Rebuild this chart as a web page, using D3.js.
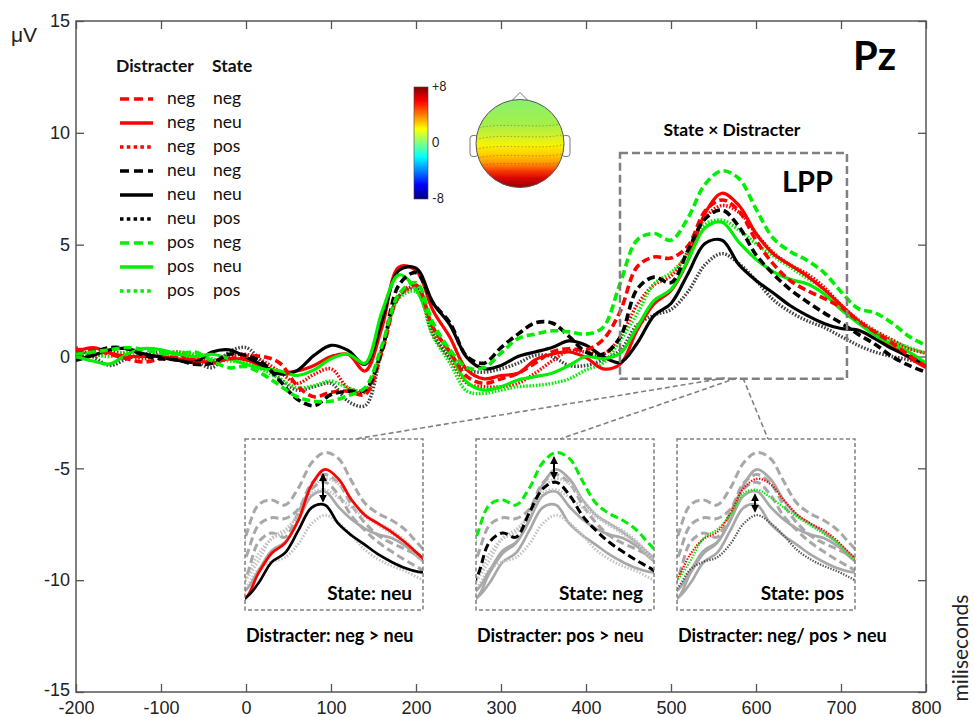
<!DOCTYPE html>
<html><head><meta charset="utf-8">
<script src="https://cdn.jsdelivr.net/npm/d3@7"></script>
<style>body{margin:0;background:#fff}svg{display:block}</style>
</head><body><svg id="c" width="974" height="717"></svg>
<script>
// ---------------- DATA ----------------
const times = [-200,-180,-160,-140,-120,-100,-80,-60,-40,-20,0,20,40,60,80,100,120,140,160,180,200,220,240,260,280,300,320,340,360,380,400,420,440,460,480,500,520,540,560,580,600,620,640,660,680,700,720,740,760,780,800];

const negNeg = [0.3,0.3,0.1,-0.1,-0.25,-0.1,0.0,-0.3,-0.2,-0.1,0.0,0.0,-0.3,-1.3,-1.8,-1.6,-1.55,-1.7,0.2,2.7,3.2,1.3,0.2,-0.9,-1.2,-1.0,-0.75,-0.3,0.2,0.35,0.3,0.75,2.0,4.0,4.45,4.4,4.95,6.5,7.0,6.5,5.2,4.15,3.4,2.95,2.6,2.2,1.6,1.1,0.6,0.05,-0.45];
const negNeu = [0.2,0.4,0.15,0.0,0.0,0.0,-0.1,-0.15,-0.3,-0.1,-0.15,-0.45,-0.7,-0.65,-0.4,0.0,0.1,-0.65,1.3,4.0,3.85,2.06,0.85,-0.6,-1.0,-0.85,-0.75,-0.15,0.1,0.2,-0.05,-0.55,-0.35,1.16,2.35,2.95,4.3,6.4,7.3,6.75,5.5,4.6,4.1,3.6,3.0,2.3,1.6,1.0,0.45,-0.05,-0.5];
const negPos = [0.1,0.0,0.2,0.1,-0.1,0.1,0.2,0.0,-0.2,0.0,0.1,-0.2,-0.7,-1.2,-0.8,-0.55,-1.4,-1.6,0.3,2.7,3.0,1.0,-0.1,-1.2,-1.35,-1.35,-1.2,-0.75,-0.2,0.25,0.2,0.1,0.85,2.3,3.2,3.6,4.7,6.2,6.75,6.45,5.5,4.65,4.1,3.7,3.1,2.3,1.65,1.15,0.75,0.35,0.15];
const neuNeg = [0.1,0.2,0.4,0.35,0.05,-0.1,-0.15,-0.35,-0.3,0.1,0.05,-0.3,-1.1,-1.9,-2.2,-1.7,-1.55,-1.5,0.3,3.2,3.75,2.4,1.5,0.0,-0.3,0.4,1.0,1.5,1.5,0.9,0.2,0.1,0.85,3.0,3.55,3.3,4.75,6.15,6.55,5.8,4.55,3.7,3.0,2.45,1.95,1.5,1.0,0.55,0.0,-0.4,-0.7];
const neuNeu = [-0.18,0.05,0.3,0.35,0.12,-0.03,-0.18,-0.25,0.2,0.3,-0.03,-0.4,-0.78,-0.63,0.05,0.5,0.27,-0.35,1.6,3.85,3.95,2.4,1.4,-0.05,-0.55,-0.4,0.0,0.2,0.4,0.7,0.5,0.0,-0.27,0.58,1.83,2.37,3.7,5.05,5.2,4.1,3.4,2.85,2.28,1.84,1.48,1.25,1.18,0.8,0.35,0.0,-0.35];
const neuPos = [0.4,0.0,-0.4,-0.1,0.1,0.2,0.1,-0.2,-0.5,0.2,0.4,-0.3,-1.0,-1.5,-1.35,-1.2,-2.0,-2.2,0.3,2.7,3.1,1.0,-0.05,-0.6,-0.7,-0.55,-0.3,0.05,0.0,-0.4,-0.4,-0.15,0.27,1.4,1.85,2.1,2.9,4.1,4.6,4.15,3.4,2.55,2.0,1.6,1.3,0.9,0.5,0.2,0.0,-0.15,-0.35];
const posNeg = [0.1,0.2,0.3,0.4,0.3,0.15,0.1,0.2,-0.2,-0.5,-0.45,-0.8,-1.3,-1.8,-2.0,-2.0,-1.75,-1.4,0.5,2.8,3.3,1.5,0.3,-0.5,-0.5,0.15,0.8,1.0,1.15,1.1,1.0,1.3,3.25,5.2,5.5,5.2,6.2,7.7,8.3,7.95,6.6,5.3,4.7,4.3,3.75,2.9,2.15,1.95,1.5,0.9,0.5];
const posNeu = [0.0,-0.2,-0.33,0.1,0.35,0.3,0.1,0.0,0.1,-0.1,-0.35,-0.55,-0.65,-0.85,-0.6,-0.1,0.1,-0.3,2.0,3.65,3.0,1.3,0.13,-1.15,-1.5,-1.35,-1.05,-0.9,-0.75,-0.4,0.0,-0.1,0.13,1.3,2.5,3.0,4.3,5.75,6.0,5.1,4.35,3.8,3.45,3.25,2.8,2.1,1.5,0.95,0.55,0.2,-0.3];
const posPos = [0.2,0.1,0.0,0.2,0.1,0.0,0.2,0.1,-0.1,-0.2,-0.3,-0.6,-1.0,-1.4,-1.3,-1.1,-1.4,-1.5,0.4,2.6,2.9,0.9,-0.3,-1.55,-1.65,-1.5,-1.35,-1.3,-1.2,-1.0,-0.6,-0.3,0.7,1.9,3.25,3.75,4.6,5.9,6.1,5.65,5.05,4.5,4.0,3.5,3.0,2.15,1.55,1.1,0.7,0.4,0.15];

const distracterLabels = ['neg','neg','neg','neu','neu','neu','pos','pos','pos'];
const stateLabels      = ['neg','neu','pos','neg','neu','pos','neg','neu','pos'];
const seriesValues     = [negNeg,negNeu,negPos,neuNeg,neuNeu,neuPos,posNeg,posNeu,posPos];
const seriesKeys       = ['negNeg','negNeu','negPos','neuNeg','neuNeu','neuPos','posNeg','posNeu','posPos'];

const xTicks = [-200,-100,0,100,200,300,400,500,600,700,800];
const yTicks = [-15,-10,-5,0,5,10,15];
const lppWindow = [440, 707];     // ms
const lppRange  = [-1.0, 9.1];    // µV
const insetStates = ['State: neu','State: neg','State: pos'];
const insetContrasts = ['Distracter: neg > neu','Distracter: pos > neu','Distracter: neg/ pos > neu'];
const insetHighlights = [['negNeu','neuNeu'],['posNeg','neuNeg'],['negPos','posPos','neuPos']];
const insetArrows = [['negNeu','neuNeu'],['posNeg','neuNeg'],['posPos','neuPos']];
const arrowTime = 560;
const colorbarLabels = ['+8','0','-8'];
const colorbarValues = [8,0,-8];

// ---------------- STYLE ----------------
const colorOf = {neg:'#ff0000', neu:'#000000', pos:'#00ee00'};
const series = seriesKeys.map((k,i)=>({
  key:k, d:distracterLabels[i], s:stateLabels[i], values:seriesValues[i],
  color: colorOf[distracterLabels[i]],
  style: stateLabels[i]==='neg' ? 'dash' : (stateLabels[i]==='neu' ? 'solid' : 'dot')
}));
function styleLine(sel, st, scale){
  scale = scale||1;
  if(st==='dash') sel.attr('stroke-width',3.6*scale).attr('stroke-dasharray','8,4');
  else if(st==='solid') sel.attr('stroke-width',3.2*scale).attr('stroke-dasharray',null);
  else sel.attr('stroke-width',3.4*scale).attr('stroke-dasharray','1.6,1.6');
}

const svg = d3.select('#c');
const X0=76, X1=926, Y0=21, Y1=692;
const x = d3.scaleLinear().domain([-200,800]).range([X0,X1]);
const y = d3.scaleLinear().domain([-15,15]).range([Y1,Y0]);
const AX = '#555';
const tickFont = '"Liberation Sans", Arial, sans-serif';
const labFont = 'Lato, "Open Sans", sans-serif';

const defs = svg.append('defs');
defs.append('clipPath').attr('id','plotclip').append('rect')
  .attr('x',X0).attr('y',Y0).attr('width',X1-X0).attr('height',Y1-Y0);
const mk = defs.append('marker').attr('id','ah').attr('viewBox','0 0 10 10')
  .attr('refX',8).attr('refY',5).attr('markerWidth',4).attr('markerHeight',4)
  .attr('orient','auto-start-reverse');
mk.append('path').attr('d','M0,0 L10,5 L0,10 z').attr('fill','#000');

// ---------------- AXES ----------------
const gL = svg.append('g').attr('transform',`translate(${X0},0)`)
  .call(d3.axisLeft(y).tickValues(yTicks).tickSize(-8).tickPadding(6).tickFormat(d=>String(d)));
const gB = svg.append('g').attr('transform',`translate(0,${Y1})`)
  .call(d3.axisBottom(x).tickValues(xTicks).tickSize(-8).tickPadding(9).tickFormat(d=>String(d)));
const gT = svg.append('g').attr('transform',`translate(0,${Y0})`)
  .call(d3.axisTop(x).tickValues(xTicks).tickSize(-8).tickFormat(''));
const gR = svg.append('g').attr('transform',`translate(${X1},0)`)
  .call(d3.axisRight(y).tickValues(yTicks).tickSize(-8).tickFormat(''));
[gL,gB,gT,gR].forEach(g=>{
  g.select('.domain').remove();
  g.selectAll('line').attr('stroke',AX).attr('stroke-width',1.3);
  g.selectAll('text').attr('font-family',tickFont).attr('font-size',18).attr('fill','#222');
});
gL.selectAll('.tick').filter(d=>d===-15).select('text').attr('dy','0.2em');
svg.append('rect').attr('x',X0).attr('y',Y0).attr('width',X1-X0).attr('height',Y1-Y0)
  .attr('fill','none').attr('stroke',AX).attr('stroke-width',1.5);

svg.append('text').attr('x',11).attr('y',42).text('μV')
  .attr('font-family',tickFont).attr('font-size',21).attr('fill','#222');
svg.append('text').attr('transform','translate(968,648) rotate(-90)').attr('text-anchor','middle')
  .text('miliseconds').attr('font-family',labFont).attr('font-size',21).attr('fill','#222');

// ---------------- CURVES ----------------
const line = d3.line().x(d=>x(d.t)).y(d=>y(d.v)).curve(d3.curveCatmullRom.alpha(0.5));
const pts = s => s.values.map((v,i)=>({t:times[i], v}));
const order = ['dot','solid','dash'];
const gCurves = svg.append('g').attr('clip-path','url(#plotclip)');
order.forEach(st=>{
  series.filter(s=>s.style===st).forEach(s=>{
    const p = gCurves.append('path').attr('d',line(pts(s))).attr('fill','none')
      .attr('stroke', s.style==='dot' && s.d==='neu' ? '#444' : s.color);
    styleLine(p, s.style);
  });
});

// ---------------- LEGEND ----------------
const lg = svg.append('g');
lg.append('text').attr('x',116).attr('y',72).text('Distracter').attr('font-weight','bold');
lg.append('text').attr('x',212).attr('y',72).text('State').attr('font-weight','bold');
series.forEach((s,i)=>{
  const yy = 99 + i*24;
  const l = lg.append('line').attr('x1',120).attr('x2',153).attr('y1',yy).attr('y2',yy)
    .attr('stroke',s.color);
  if(s.style==='dash') l.attr('stroke-width',3.5).attr('stroke-dasharray','9,5');
  else if(s.style==='solid') l.attr('stroke-width',3.5);
  else l.attr('stroke-width',3.5).attr('stroke-dasharray','3.5,3.3');
  lg.append('text').attr('x',167).attr('y',yy+5).text(s.d);
  lg.append('text').attr('x',213).attr('y',yy+5).text(s.s);
});
lg.selectAll('text').attr('font-family',labFont).attr('font-size',17.5).attr('fill','#111');

// ---------------- Pz, title, LPP box ----------------
svg.append('text').attr('x',853).attr('y',70).text('Pz').attr('font-family',labFont)
  .attr('font-weight','bold').attr('font-size',40).attr('fill','#000');
svg.append('text').attr('x',732).attr('y',136).attr('text-anchor','middle').text('State × Distracter')
  .attr('font-family',labFont).attr('font-weight','bold').attr('font-size',17.5).attr('fill','#000');
const bx0 = x(lppWindow[0]), bx1 = x(lppWindow[1]), by0 = y(lppRange[1]), by1 = y(lppRange[0]);
svg.append('rect').attr('x',bx0).attr('y',by0).attr('width',bx1-bx0).attr('height',by1-by0)
  .attr('fill','none').attr('stroke','#808080').attr('stroke-width',2.5).attr('stroke-dasharray','8,4');
svg.append('text').attr('x',bx1-14).attr('y',192).attr('text-anchor','end').text('LPP')
  .attr('font-family',labFont).attr('font-weight','bold').attr('font-size',29).attr('fill','#000');

// ---------------- TOPOMAP ----------------
const cx=520, cy=143.5, r=44;
const tg = defs.append('linearGradient').attr('id','topoGrad').attr('x1',0).attr('x2',0).attr('y1',0).attr('y2',1);
[[0,'#88f070'],[0.28,'#a4f048'],[0.42,'#d4f02a'],[0.52,'#f6f400'],[0.62,'#ffd000'],[0.72,'#ff9800'],[0.81,'#ff3a00'],[0.9,'#d80000'],[1,'#9a0000']]
  .forEach(([o,c])=>tg.append('stop').attr('offset',o).attr('stop-color',c));
defs.append('clipPath').attr('id','headclip').append('circle').attr('cx',cx).attr('cy',cy).attr('r',r);
const topo = svg.append('g');
topo.append('path').attr('d',`M${cx-9},${cy-r+2} L${cx},${cy-r-7} L${cx+9},${cy-r+2}`)
  .attr('fill','#fff').attr('stroke','#777').attr('stroke-width',1);
topo.append('rect').attr('x',cx-r-6).attr('y',cy-8).attr('width',8).attr('height',21).attr('rx',3)
  .attr('fill','#fff').attr('stroke','#777');
topo.append('rect').attr('x',cx+r-2).attr('y',cy-8).attr('width',8).attr('height',21).attr('rx',3)
  .attr('fill','#fff').attr('stroke','#777');
topo.append('circle').attr('cx',cx).attr('cy',cy).attr('r',r).attr('fill','url(#topoGrad)');
const cg = topo.append('g').attr('clip-path','url(#headclip)');
[-18,-7,3,12,20,28,36].forEach((dy,i)=>{
  cg.append('path').attr('d',`M${cx-r},${cy+dy+3} C${cx-20},${cy+dy-4} ${cx+20},${cy+dy+4} ${cx+r},${cy+dy-2}`)
    .attr('fill','none').attr('stroke','#555').attr('stroke-width',0.6).attr('stroke-dasharray','1.5,2').attr('opacity',0.8);
});
topo.append('circle').attr('cx',cx).attr('cy',cy).attr('r',r).attr('fill','none').attr('stroke','#555').attr('stroke-width',1);

// colorbar (jet)
const cbX=414, cbW=14, cbTop=87, cbBot=199;
const cb = d3.scaleLinear().domain([8,-8]).range([cbTop,cbBot]);
const jg = defs.append('linearGradient').attr('id','jet').attr('x1',0).attr('x2',0).attr('y1',0).attr('y2',1);
[[0,'#800000'],[0.125,'#ff0000'],[0.375,'#ffff00'],[0.5,'#80ff80'],[0.625,'#00ffff'],[0.875,'#0000ff'],[1,'#000080']]
  .forEach(([o,c])=>jg.append('stop').attr('offset',o).attr('stop-color',c));
svg.append('rect').attr('x',cbX).attr('y',cbTop).attr('width',cbW).attr('height',cbBot-cbTop)
  .attr('fill','url(#jet)').attr('stroke','#444').attr('stroke-width',0.6);
colorbarValues.forEach((v,i)=>{
  svg.append('text').attr('x',cbX+cbW+4).attr('y',cb(v)+4).text(colorbarLabels[i])
    .attr('font-family',labFont).attr('font-size',12.5).attr('fill','#222');
});

// ---------------- INSETS ----------------
const insetX = [245, 476, 677], insetY0 = 439, insetY1 = 610, insetW = 178;
const leaderFrom = [[725,378],[737,378],[743,378]];
const leaderTo = [[355,439],[560,439],[768,439]];
leaderFrom.forEach((f,i)=>{
  svg.append('line').attr('x1',f[0]).attr('y1',f[1]).attr('x2',leaderTo[i][0]).attr('y2',leaderTo[i][1])
    .attr('stroke','#808080').attr('stroke-width',1.6).attr('stroke-dasharray','5,3');
});
insetX.forEach((ix,k)=>{
  const g = svg.append('g');
  const cid = 'ic'+k;
  defs.append('clipPath').attr('id',cid).append('rect').attr('x',ix).attr('y',insetY0).attr('width',insetW).attr('height',insetY1-insetY0);
  const xi = d3.scaleLinear().domain(lppWindow).range([ix, ix+insetW]);
  const yi = d3.scaleLinear().domain(lppRange).range([insetY1, insetY0]);
  const li = d3.line().x(d=>xi(d.t)).y(d=>yi(d.v)).curve(d3.curveCatmullRom.alpha(0.5));
  const cg2 = g.append('g').attr('clip-path',`url(#${cid})`);
  const hl = insetHighlights[k];
  series.filter(s=>!hl.includes(s.key)).forEach(s=>{
    const p = cg2.append('path').attr('d',li(pts(s))).attr('fill','none')
      .attr('stroke', s.style==='dot' ? '#c4c4c4' : '#a8a8a8');
    styleLine(p, s.style, 0.85);
  });
  series.filter(s=>hl.includes(s.key)).forEach(s=>{
    const p = cg2.append('path').attr('d',li(pts(s))).attr('fill','none')
      .attr('stroke', s.style==='dot' && s.d==='neu' ? '#555' : s.color);
    if(s.style==='dot') p.attr('stroke-width',2.2).attr('stroke-dasharray','1.4,1.4');
    else styleLine(p, s.style, 0.85);
  });
  g.append('rect').attr('x',ix).attr('y',insetY0).attr('width',insetW).attr('height',insetY1-insetY0)
    .attr('fill','none').attr('stroke','#808080').attr('stroke-width',1.5).attr('stroke-dasharray','4,2.5');
  // arrow
  const ti = times.indexOf(arrowTime);
  const a = series.find(s=>s.key===insetArrows[k][0]), b = series.find(s=>s.key===insetArrows[k][1]);
  const ax = xi(arrowTime) - 2;
  g.append('line').attr('x1',ax).attr('x2',ax).attr('y1',yi(a.values[ti])+5).attr('y2',yi(b.values[ti])-4)
    .attr('stroke','#000').attr('stroke-width',2)
    .attr('marker-start','url(#ah)').attr('marker-end','url(#ah)');
  g.append('text').attr('x',ix+insetW-11).attr('y',600).attr('text-anchor','end').text(insetStates[k])
    .attr('font-family',labFont).attr('font-weight','bold').attr('font-size',19).attr('fill','#000');
  g.append('text').attr('x',ix+1).attr('y',642).text(insetContrasts[k])
    .attr('font-family',labFont).attr('font-weight','bold').attr('font-size',18).attr('fill','#000');
});
</script></body></html>
